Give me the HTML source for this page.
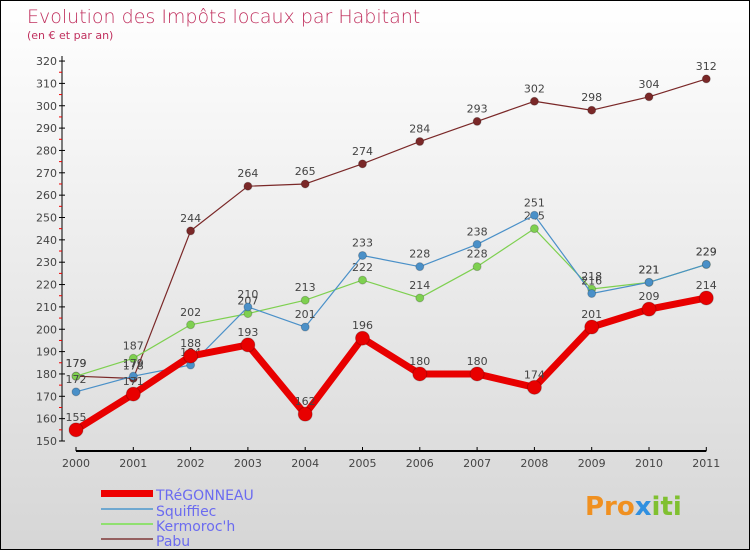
<!DOCTYPE html>
<html><head><meta charset="utf-8"><style>
body{margin:0}
#c{position:relative;width:748px;height:548px;border:1px solid #000;background:linear-gradient(#fff,#d6d6d6);font-family:"DejaVu Sans","Liberation Sans",sans-serif;overflow:hidden}
</style></head><body>
<div id="c">
<svg id="s" width="748" height="548">
<text x="26" y="22" font-size="19" fill="#c0305e" font-weight="200">Evolution des Impôts locaux par Habitant</text>
<text x="26" y="38" font-size="11" fill="#c0305e">(en € et par an)</text>
<g id="ax"></g><g id="ser"></g>
<g font-size="14" fill="#6b6bf0">
<rect x="100" y="489" width="52" height="7" fill="#e00"/>
<text x="155" y="499">TRéGONNEAU</text>
<rect x="100" y="507" width="52" height="2" fill="#6fa8d0"/>
<text x="155" y="515">Squiffiec</text>
<rect x="100" y="522" width="52" height="2" fill="#90e070"/>
<text x="155" y="530">Kermoroc'h</text>
<rect x="100" y="537" width="52" height="2" fill="#956060"/>
<text x="155" y="545">Pabu</text>
</g>
<text x="584" y="514" font-size="26" font-weight="bold" fill="#f09020">Pro<tspan fill="#3090e0">x</tspan><tspan fill="#80c030">iti</tspan></text>
</svg></div>
<script>
const years=["2000","2001","2002","2003","2004","2005","2006","2007","2008","2009","2010","2011"];
const yTicks=[150,160,170,180,190,200,210,220,230,240,250,260,270,280,290,300,310,320];
const tregonneau=[155,171,188,193,162,196,180,180,174,201,209,214];
const squiffiec=[172,179,184,210,201,233,228,238,251,216,221,229];
const kermoroch=[179,187,202,207,213,222,214,228,245,218,221,229];
const pabu=[179,178,244,264,265,274,284,293,302,298,304,312];
const NS="http://www.w3.org/2000/svg";
const X=i=>75+i*57.3, Y=v=>440-(v-150)*2.235;
function mk(t,a,p){const e=document.createElementNS(NS,t);for(const k in a)e.setAttribute(k,a[k]);p.appendChild(e);return e;}
const ax=document.getElementById('ax'), ser=document.getElementById('ser');
let l=mk('line',{x1:61,y1:Y(320)-5,x2:61,y2:Y(150),stroke:'#000'},ax);


l=mk('line',{x1:X(0),y1:450,x2:X(11),y2:450,stroke:'#000','stroke-width':2},ax);


yTicks.forEach((v,i)=>{
 mk('line',{x1:58,x2:64,y1:Y(v),y2:Y(v),stroke:'#000'},ax);
 if(i<yTicks.length-1)mk('line',{x1:58,x2:61,y1:Y(v+5),y2:Y(v+5),stroke:'#e00'},ax);
 const t=mk('text',{x:56,y:Y(v)+4,'text-anchor':'end','font-size':11,fill:'#444'},ax);t.textContent=v;
 
 
});
years.forEach((y,i)=>{
 mk('line',{x1:X(i),x2:X(i),y1:446,y2:450,stroke:'#000'},ax);
 const t=mk('text',{x:X(i),y:466,'text-anchor':'middle','font-size':11,fill:'#444'},ax);t.textContent=y;
 
 
});
function series(d,col,w,r,name){
 const g=mk('g',{},ser);
 
 
 const p=mk('polyline',{points:d.map((v,i)=>X(i)+','+Y(v)).join(' '),fill:'none',stroke:col,'stroke-width':w,'stroke-linejoin':'round'},g);
 
 
 d.forEach((v,i)=>{
  const c=mk('circle',{cx:X(i),cy:Y(v),r:r,fill:col,stroke:'#0003'},g);
  
  
  const t=mk('text',{x:X(i),y:Y(v)-9,'text-anchor':'middle','font-size':11,fill:'#444'},g);t.textContent=v;
  
  
 });
}
series(pabu,'#7a2828',1.2,4,'pabu');
series(kermoroch,'#7ed050',1.2,4,'kermoroch');
series(squiffiec,'#4a90c8',1.2,4,'squiffiec');
series(tregonneau,'#e80000',7,7,'tregonneau');
</script>
</body></html>
